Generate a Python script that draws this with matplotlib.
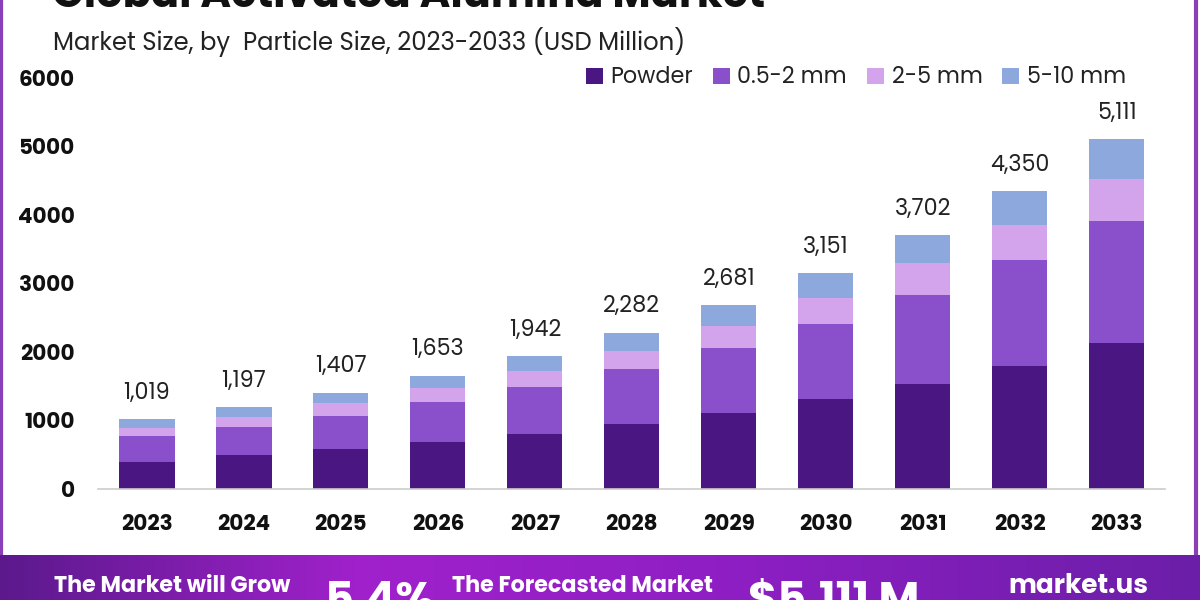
import matplotlib
matplotlib.use("Agg")
import matplotlib.pyplot as plt
import numpy as np
from matplotlib.patches import Rectangle

years = ["2023", "2024", "2025", "2026", "2027", "2028", "2029", "2030", "2031", "2032", "2033"]
powder = [400, 490, 586, 687, 800, 950, 1111, 1309, 1534, 1799, 2127]
mm_05_2 = [367, 410, 482, 577, 687, 803, 947, 1097, 1299, 1539, 1788]
mm_2_5 = [122, 155, 185, 216, 242, 268, 320, 385, 460, 523, 615]
mm_5_10 = [130, 142, 154, 173, 213, 261, 303, 360, 409, 489, 581]
totals = [1019, 1197, 1407, 1653, 1942, 2282, 2681, 3151, 3702, 4350, 5111]
series_names = ["Powder", "0.5-2 mm", "2-5 mm", "5-10 mm"]
colors = ["#4a1682", "#8a4fcb", "#d3a3ec", "#8da8dc"]
yticks = [0, 1000, 2000, 3000, 4000, 5000, 6000]

plt.rcParams['font.family'] = ['Poppins', 'Lato', 'DejaVu Sans']
fig = plt.figure(figsize=(12, 6), dpi=100)
fig.patch.set_facecolor("white")

# card border
border = Rectangle((0.001, 0.06), 0.996, 1.0, transform=fig.transFigure,
                   facecolor="none", edgecolor="#8a3fb8", linewidth=3, zorder=0)
fig.add_artist(border)

ax = fig.add_axes([0.082, 0.185, 0.889, 0.685])
x = np.arange(len(years))
bottom = np.zeros(len(years))
for vals, name, c in zip([powder, mm_05_2, mm_2_5, mm_5_10], series_names, colors):
    ax.bar(x, vals, width=0.57, bottom=bottom, color=c, label=name, zorder=2)
    bottom += np.array(vals)

for xi, t in zip(x, totals):
    ax.text(xi, t + 210, f"{t:,}", ha="center", va="bottom", fontsize=16, color="#222222")

ax.set_xlim(-0.5, 10.5)
ax.set_ylim(0, 6000)
ax.set_yticks(yticks)
ax.set_yticklabels([str(v) for v in yticks], fontsize=15.5, fontweight="bold", color="#111111")
ax.set_xticks(x)
ax.set_xticklabels(years, fontsize=15.5, fontweight="bold", color="#111111")
ax.tick_params(axis="y", length=0, pad=17)
ax.tick_params(axis="x", length=0, pad=18)
for s in ["top", "right", "left"]:
    ax.spines[s].set_visible(False)
ax.spines["bottom"].set_color("#cccccc")
ax.spines["bottom"].set_linewidth(1.2)

leg = ax.legend(loc="center right", bbox_to_anchor=(0.982, 1.0), ncol=4, frameon=False,
                fontsize=16, handlelength=0.75, handleheight=0.75, handletextpad=0.35,
                columnspacing=0.9, labelcolor="#222222")

# Title and subtitle
fig.text(0.043, 1.005, "Global Activated Alumina Market", fontsize=30, fontweight="bold",
         color="#111111", ha="left", va="center")
fig.text(0.044, 0.930, "Market Size, by  Particle Size, 2023-2033 (USD Million)", fontsize=17.5,
         color="#222222", ha="left", va="center")

# Bottom banner with gradient
bax = fig.add_axes([0, 0, 1, 0.075])
grad = np.linspace(0, 1, 400)
r = np.interp(grad, [0, 0.3, 0.6, 1], [0.36, 0.63, 0.56, 0.42])
g = np.interp(grad, [0, 0.3, 0.6, 1], [0.10, 0.13, 0.12, 0.12])
b = np.interp(grad, [0, 0.3, 0.6, 1], [0.55, 0.80, 0.77, 0.66])
img = np.stack([r, g, b], axis=-1)[None, :, :]
bax.imshow(img, aspect="auto", extent=[0, 1, 0, 1])
bax.set_xlim(0, 1)
bax.set_ylim(0, 1)
bax.axis("off")
bax.text(0.045, 0.30, "The Market will Grow", fontsize=16, fontweight="bold", color="white",
         ha="left", va="center")
bax.text(0.27, -0.05, "5.4%", fontsize=32, fontweight="bold", color="white", ha="left", va="center")
bax.text(0.377, 0.30, "The Forecasted Market", fontsize=16, fontweight="bold", color="white",
         ha="left", va="center")
bax.text(0.623, -0.05, "$5,111 M", fontsize=32, fontweight="bold", color="white", ha="left", va="center")
bax.text(0.84, 0.30, "market.us", fontsize=19, fontweight="bold", color="white", ha="left", va="center")

fig.savefig("out.png", dpi=100, facecolor="white")
